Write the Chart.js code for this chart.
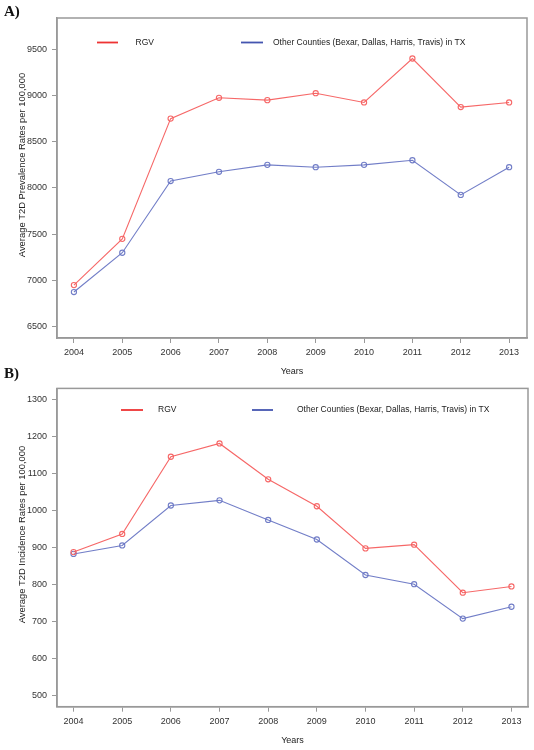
<!DOCTYPE html>
<html><head><meta charset="utf-8">
<script src="https://cdn.jsdelivr.net/npm/chart.js@4/dist/chart.umd.min.js"></script>
<style>
html,body{margin:0;padding:0;background:#fff;}
body{width:534px;height:750px;position:relative;overflow:hidden;font-family:"Liberation Sans",Arial,sans-serif;}
.wrap{position:absolute;left:0;width:534px;}
.panel-label{position:absolute;left:4px;font-family:"Liberation Serif","Times New Roman",serif;font-weight:bold;font-size:15px;line-height:15px;color:#111;}
</style></head><body>
<div class="wrap" style="top:0;height:378px"><canvas id="cA"></canvas></div>
<div class="wrap" style="top:378px;height:372px"><canvas id="cB"></canvas></div>
<div class="panel-label" style="top:4px">A)</div>
<div class="panel-label" style="top:366px">B)</div>
<script>
const years = [2004,2005,2006,2007,2008,2009,2010,2011,2012,2013];
const seriesNames = ["RGV", "Other Counties (Bexar, Dallas, Harris, Travis) in TX"];
const prevalenceRGV   = [6950,7450,8750,8975,8950,9025,8925,9400,8875,8925];
const prevalenceOther = [6875,7300,8075,8175,8250,8225,8250,8300,7925,8225];
const incidenceRGV    = [888,937,1146,1182,1085,1012,898,908,778,795];
const incidenceOther  = [883,906,1014,1028,975,922,826,801,708,740];
const prevalenceTicks = [6500,7000,7500,8000,8500,9000,9500];
const incidenceTicks  = [500,600,700,800,900,1000,1100,1200,1300];

const RED_LINE = 'rgba(245,95,95,0.95)';
const BLUE_LINE = 'rgba(105,118,196,0.95)';
const RED_KEY = '#ee3333';
const BLUE_KEY = '#4455b0';
const AXIS = '#999';
const FONT = "'Liberation Sans', Arial, sans-serif";

const framePlugin = {
  id: 'frame',
  afterDraw(chart, args, opts) {
    const {ctx, chartArea: a} = chart;
    ctx.save();
    ctx.strokeStyle = AXIS; ctx.lineWidth = 1.5;
    ctx.strokeRect(a.left, a.top, a.right - a.left, a.bottom - a.top);
    (opts.items || []).forEach(it => {
      ctx.strokeStyle = it.color; ctx.lineWidth = 1.8;
      ctx.beginPath(); ctx.moveTo(it.x1, it.y); ctx.lineTo(it.x2, it.y); ctx.stroke();
      ctx.fillStyle = '#222'; ctx.font = '8.5px ' + FONT; ctx.textBaseline = 'middle'; ctx.textAlign = 'left';
      ctx.fillText(it.text, it.tx, it.y);
    });
    // y axis title
    ctx.save();
    ctx.translate(22, (a.top + a.bottom) / 2 - 13);
    ctx.rotate(-Math.PI / 2);
    ctx.fillStyle = '#222'; ctx.font = '9.4px ' + FONT; ctx.textAlign = 'center'; ctx.textBaseline = 'middle';
    ctx.fillText(opts.yTitle, 0, 0);
    ctx.restore();
    ctx.restore();
  }
};

function makeChart(id, rgv, other, yTicks, yMin, yMax, xMin, xMax, yTitle, pad, xAxisH, titleBottomPad, legendItems) {
  return new Chart(document.getElementById(id), {
    type: 'line',
    data: {
      datasets: [
        {label: seriesNames[0], data: years.map((y,i)=>({x:y, y:rgv[i]})), borderColor: RED_LINE, backgroundColor:'rgba(0,0,0,0)', pointBorderColor: RED_LINE, pointBackgroundColor:'rgba(0,0,0,0)', borderWidth: 1.1, pointRadius: 2.6, pointBorderWidth: 1.1, tension: 0},
        {label: seriesNames[1], data: years.map((y,i)=>({x:y, y:other[i]})), borderColor: BLUE_LINE, backgroundColor:'rgba(0,0,0,0)', pointBorderColor: BLUE_LINE, pointBackgroundColor:'rgba(0,0,0,0)', borderWidth: 1.1, pointRadius: 2.6, pointBorderWidth: 1.1, tension: 0}
      ]
    },
    options: {
      responsive: true, maintainAspectRatio: false, animation: false, devicePixelRatio: 1,
      layout: {padding: pad},
      plugins: {legend: {display: false}, tooltip: {enabled: false},
        frame: {items: legendItems, yTitle: yTitle}},
      scales: {
        x: {
          type: 'linear', min: xMin, max: xMax,
          afterBuildTicks: s => { s.ticks = years.map(v => ({value: v})); },
          afterFit: s => { s.height = xAxisH; },
          ticks: {callback: v => String(v), font: {family: FONT, size: 9}, color: '#333', padding: 4, maxRotation: 0, autoSkip: false},
          grid: {drawOnChartArea: false, drawTicks: true, tickLength: 5, color: AXIS, lineWidth: 1},
          border: {display: true, color: AXIS, width: 1.5},
          title: {display: true, text: 'Years', font: {family: FONT, size: 9}, color: '#222', padding: {top: 0, bottom: titleBottomPad}}
        },
        y: {
          type: 'linear', min: yMin, max: yMax,
          afterBuildTicks: s => { s.ticks = yTicks.map(v => ({value: v})); },
          afterFit: s => { s.width = 57; },
          ticks: {callback: v => String(v), font: {family: FONT, size: 9}, color: '#333', padding: 5},
          grid: {drawOnChartArea: false, drawTicks: true, tickLength: 5, color: AXIS, lineWidth: 1},
          border: {display: true, color: AXIS, width: 1.5},
          title: {display: false}
        }
      }
    },
    plugins: [framePlugin]
  });
}

makeChart('cA', prevalenceRGV, prevalenceOther, prevalenceTicks, 6378, 9838, 2003.65, 2013.37,
  'Average T2D Prevalence Rates per 100,000', {top: 18, right: 7, left: 0, bottom: 0}, 40, 1,
  [{color: RED_KEY, x1: 97, x2: 118, y: 42.5, tx: 135.5, text: seriesNames[0]},
   {color: BLUE_KEY, x1: 241, x2: 263, y: 42.5, tx: 273, text: seriesNames[1]}]);

makeChart('cB', incidenceRGV, incidenceOther, incidenceTicks, 469.5, 1331, 2003.66, 2013.34,
  'Average T2D Incidence Rates per 100,000', {top: 7, right: 6, left: 0, bottom: 0}, 43.3, 4,
  [{color: RED_KEY, x1: 121, x2: 143, y: 32, tx: 158, text: seriesNames[0]},
   {color: BLUE_KEY, x1: 252, x2: 273, y: 32, tx: 297, text: seriesNames[1]}]);
</script>
</body></html>
